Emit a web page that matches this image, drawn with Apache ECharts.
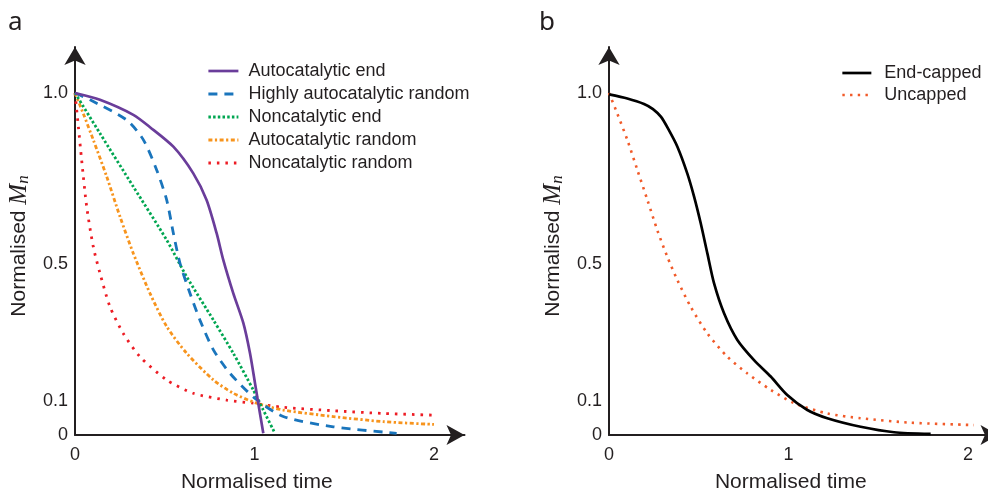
<!DOCTYPE html>
<html>
<head>
<meta charset="utf-8">
<script src="https://cdn.jsdelivr.net/npm/echarts@6/dist/echarts.min.js"></script>
<style>
  html, body { margin: 0; padding: 0; background: #fff; }
  #chart { width: 988px; height: 492px; }
</style>
</head>
<body>
<div id="chart"></div>
<script>
// panel a
const autoEndX = [0, 0.139, 0.325, 0.418, 0.548, 0.659, 0.733, 0.789, 0.826, 0.882, 0.938, 0.975, 1.003, 1.021, 1.049]
const autoEndY = [1.0, 0.98, 0.936, 0.90, 0.843, 0.765, 0.687, 0.590, 0.512, 0.414, 0.327, 0.239, 0.151, 0.093, 0.005]

const highAutoX = [0, 0.084, 0.288, 0.381, 0.455, 0.511, 0.548, 0.585, 0.641, 0.696, 0.771, 0.864, 1.003, 1.160, 1.439, 1.792]
const highAutoY = [1.0, 0.98, 0.921, 0.863, 0.775, 0.687, 0.590, 0.502, 0.414, 0.336, 0.249, 0.180, 0.107, 0.054, 0.024, 0.005]

const nonEndX = [0, 0.139, 0.325, 0.511, 0.622, 0.771, 0.882, 0.993, 1.049, 1.114]
const nonEndY = [1.0, 0.882, 0.726, 0.570, 0.463, 0.336, 0.239, 0.132, 0.073, 0.005]

const autoRandX = [0, 0.046, 0.102, 0.177, 0.251, 0.325, 0.418, 0.511, 0.622, 0.771, 0.882, 1.012, 1.160, 1.439, 1.718, 2.0]
const autoRandY = [1.0, 0.940, 0.863, 0.755, 0.638, 0.531, 0.414, 0.317, 0.239, 0.161, 0.122, 0.093, 0.073, 0.054, 0.039, 0.031]

const nonRandX = [0, 0.019, 0.037, 0.065, 0.102, 0.139, 0.195, 0.269, 0.362, 0.511, 0.659, 0.845, 0.993, 1.160, 1.439, 1.718, 2.0]
const nonRandY = [1.0, 0.90, 0.804, 0.668, 0.55, 0.473, 0.375, 0.297, 0.229, 0.161, 0.122, 0.102, 0.093, 0.081, 0.071, 0.063, 0.058]

// panel b
const cappedX = [0, 0.102, 0.195, 0.245, 0.290, 0.330, 0.381, 0.436, 0.474, 0.511, 0.548, 0.585, 0.641, 0.715, 0.808, 0.901, 0.993, 1.105, 1.216, 1.402, 1.588, 1.792]
const cappedY = [0.996, 0.984, 0.968, 0.953, 0.930, 0.895, 0.843, 0.765, 0.697, 0.619, 0.531, 0.444, 0.356, 0.278, 0.219, 0.171, 0.117, 0.073, 0.049, 0.024, 0.008, 0.003]

const uncappedX = [0, 0.046, 0.102, 0.158, 0.214, 0.269, 0.325, 0.381, 0.455, 0.548, 0.659, 0.771, 0.901, 1.031, 1.216, 1.402, 1.681, 2.033]
const uncappedY = [1.0, 0.940, 0.863, 0.775, 0.687, 0.599, 0.521, 0.453, 0.375, 0.297, 0.229, 0.180, 0.132, 0.093, 0.063, 0.049, 0.036, 0.029]

const xTicks = [0, 1, 2]
const yTicks = [0, 0.1, 0.5, 1]

const zip = (xs, ys) => xs.map((x, i) => [x, ys[i]])

const sans = 'Liberation Sans'
const ink = '#231f20'

const xAxisFor = (gi) => ({
    type: 'value', gridIndex: gi, min: 0, max: 2.17,
    name: 'Normalised time', nameLocation: 'middle', nameGap: 37,
    nameTextStyle: { fontFamily: sans, fontSize: 21, color: ink, padding: [0, 26, 0, 0] },
    axisLine: { show: true, symbol: ['none', 'arrow'], symbolSize: [15, 18], lineStyle: { color: ink, width: 2 } },
    axisTick: { show: false },
    splitLine: { show: false },
    axisLabel: { customValues: xTicks, fontFamily: sans, fontSize: 18, color: ink, margin: 11 }
})

const yAxisFor = (gi) => ({
    type: 'value', gridIndex: gi, min: 0, max: 1.1345,
    name: '{t|Normalised }{m|M}{s|n}', nameLocation: 'middle', nameGap: 43, nameRotate: 90,
    nameTextStyle: {
        color: ink, padding: [0, 10, 0, 0],
        rich: {
            t: { fontFamily: sans, fontSize: 21, color: ink },
            m: { fontFamily: 'Liberation Serif', fontStyle: 'italic', fontSize: 25, color: ink },
            s: { fontFamily: 'Liberation Serif', fontStyle: 'italic', fontSize: 17, color: ink, verticalAlign: 'bottom', padding: [9, 0, 0, 0] }
        }
    },
    axisLine: { show: true, symbol: ['none', 'arrow'], symbolSize: [16, 18], lineStyle: { color: ink, width: 2 } },
    axisTick: { show: false },
    splitLine: { show: false },
    axisLabel: {
        customValues: yTicks, fontFamily: sans, fontSize: 18, color: ink, margin: 7,
        formatter: v => (v === 1 ? '1.0' : String(v))
    }
})

const line = (name, gi, xs, ys, color, width, dash) => ({
    name, type: 'line', xAxisIndex: gi, yAxisIndex: gi,
    data: zip(xs, ys), smooth: 0.25,
    showSymbol: false, symbol: 'none', silent: true,
    lineStyle: { color, width, type: dash || 'solid', cap: 'butt' },
    itemStyle: { color }
})

const chart = echarts.init(document.getElementById('chart'), null, { renderer: 'canvas' })
chart.setOption({
    animation: false,
    backgroundColor: '#fff',
    graphic: [
        { type: 'text', left: 8, top: 10, style: { text: 'a', fontFamily: 'Noto Sans', fontSize: 26, fill: ink } },
        { type: 'text', left: 539, top: 10, style: { text: 'b', fontFamily: 'Noto Sans', fontSize: 26, fill: ink } }
    ],
    grid: [
        { left: 75, top: 47, width: 389.5, height: 388, outerBoundsMode: 'none', containLabel: false },
        { left: 609, top: 47, width: 389.5, height: 388, outerBoundsMode: 'none', containLabel: false }
    ],
    xAxis: [xAxisFor(0), xAxisFor(1)],
    yAxis: [yAxisFor(0), yAxisFor(1)],
    legend: [
        {
            left: 207, top: 62, padding: 0, orient: 'vertical', itemWidth: 30, itemHeight: 14, itemGap: 5,
            itemStyle: { opacity: 0 }, lineStyle: { width: 'inherit' },
            textStyle: { fontFamily: sans, fontSize: 18, color: ink, padding: [0, 0, 0, 5] },
            data: ['Autocatalytic end', 'Highly autocatalytic random', 'Noncatalytic end', 'Autocatalytic random', 'Noncatalytic random']
        },
        {
            left: 841, top: 64, padding: 0, orient: 'vertical', itemWidth: 29, itemHeight: 14, itemGap: 4,
            itemStyle: { opacity: 0 }, lineStyle: { width: 'inherit' },
            textStyle: { fontFamily: sans, fontSize: 18, color: ink, padding: [0, 0, 0, 8] },
            data: ['End-capped', 'Uncapped']
        }
    ],
    series: [
        line('Noncatalytic random', 0, nonRandX, nonRandY, '#ed1c24', 2.8, [2.5, 6]),
        line('Autocatalytic random', 0, autoRandX, autoRandY, '#f7941d', 2.8, [4, 2.5, 2.2, 2.5]),
        line('Noncatalytic end', 0, nonEndX, nonEndY, '#00a651', 2.8, [2.5, 2.2]),
        line('Highly autocatalytic random', 0, highAutoX, highAutoY, '#1a75bc', 2.8, [9, 7]),
        line('Autocatalytic end', 0, autoEndX, autoEndY, '#6a3d9a', 2.7),
        line('Uncapped', 1, uncappedX, uncappedY, '#f15a29', 2.6, [2.4, 5.3]),
        line('End-capped', 1, cappedX, cappedY, '#000000', 2.7)
    ]
})
</script>
</body>
</html>
